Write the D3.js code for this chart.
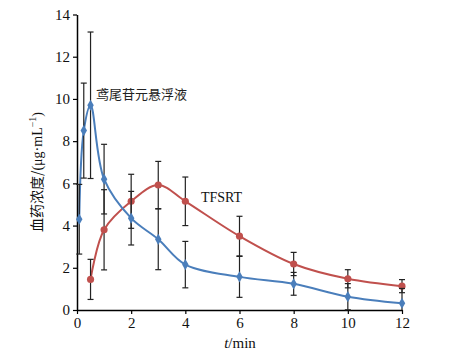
<!DOCTYPE html>
<html><head><meta charset="utf-8">
<script src="https://cdn.jsdelivr.net/npm/d3@7"></script>
<style>body{margin:0;background:#fff}svg{display:block}</style>
</head><body>
<script>
const blueT = [0.083, 0.25, 0.5, 1, 2, 3, 4, 6, 8, 10, 12];
const blueV = [4.3, 8.5, 9.7, 6.2, 4.35, 3.35, 2.15, 1.57, 1.24, 0.63, 0.32];
const blueE = [1.65, 2.25, 3.47, 1.65, 1.27, 1.44, 1.1, 0.97, 0.54, 0.62, 0.7];
const redT = [0.5, 1, 2, 3, 4, 6, 8, 10, 12];
const redV = [1.45, 3.8, 5.15, 5.92, 5.15, 3.5, 2.18, 1.48, 1.13];
const redE = [0.95, 1.9, 1.28, 1.12, 1.15, 0.94, 0.55, 0.43, 0.31];
const xTicks = [0, 2, 4, 6, 8, 10, 12];
const yTicks = [0, 2, 4, 6, 8, 10, 12, 14];
const blueName = "鸢尾苷元悬浮液";
const redName = "TFSRT";

const W = 476, H = 360;
const svg = d3.select("body").append("svg").attr("width", W).attr("height", H);
const x = d3.scaleLinear().domain([0, 12]).range([77, 402]);
const y = d3.scaleLinear().domain([0, 14]).range([310, 14.5]);
const serif = "'Liberation Serif','Times New Roman',serif";

const xa = svg.append("g").attr("transform", `translate(0,${y(0)})`)
  .call(d3.axisBottom(x).tickValues(xTicks).tickSize(4).tickSizeOuter(0).tickPadding(3));
const ya = svg.append("g").attr("transform", `translate(${x(0)},0)`)
  .call(d3.axisLeft(y).tickValues(yTicks).tickSize(4).tickSizeOuter(0).tickPadding(3));
[xa, ya].forEach(g => {
  g.select(".domain").attr("stroke", "#000").attr("stroke-width", 1.5);
  g.selectAll(".tick line").attr("stroke", "#000").attr("stroke-width", 1.2);
  g.selectAll(".tick text").attr("font-family", serif).attr("font-size", 15).attr("fill", "#111");
});

function series(T, V, E, color, shape) {
  const pts = T.map((t, i) => ({t, v: V[i], e: E[i]}));
  const g = svg.append("g");
  g.append("path").datum(pts)
    .attr("fill", "none").attr("stroke", color).attr("stroke-width", 2)
    .attr("d", d3.line().x(d => x(d.t)).y(d => y(d.v)).curve(d3.curveCatmullRom.alpha(0.5)));
  const eb = g.selectAll(".eb").data(pts).enter().append("g").attr("stroke", "#222").attr("stroke-width", 1.2);
  eb.append("line").attr("x1", d => x(d.t)).attr("x2", d => x(d.t))
    .attr("y1", d => y(Math.max(0, d.v - d.e))).attr("y2", d => y(d.v + d.e));
  eb.append("line").attr("x1", d => x(d.t) - 3).attr("x2", d => x(d.t) + 3)
    .attr("y1", d => y(d.v + d.e)).attr("y2", d => y(d.v + d.e));
  eb.filter(d => d.v - d.e > 0).append("line").attr("x1", d => x(d.t) - 3).attr("x2", d => x(d.t) + 3)
    .attr("y1", d => y(d.v - d.e)).attr("y2", d => y(d.v - d.e));
  g.selectAll(".m").data(pts).enter().append("path")
    .attr("transform", d => `translate(${x(d.t)},${y(d.v)})`)
    .attr("fill", color)
    .attr("d", d3.symbol().type(shape).size(shape === d3.symbolCircle ? 40 : 36));
}
series(redT, redV, redE, "#c0504d", d3.symbolCircle);
series(blueT, blueV, blueE, "#4a7ebb", d3.symbolDiamond);

svg.append("text").attr("x", 96).attr("y", 99).attr("font-family", "'Noto Sans CJK SC',sans-serif")
  .attr("font-size", 13).attr("fill", "#222").text(blueName);
svg.append("text").attr("x", 201).attr("y", 202).attr("font-family", serif)
  .attr("font-size", 14).attr("fill", "#111").text(redName);

const xl = svg.append("text").attr("x", 240).attr("y", 348).attr("text-anchor", "middle")
  .attr("font-family", serif).attr("font-size", 15).attr("fill", "#111");
xl.append("tspan").attr("font-style", "italic").text("t");
xl.append("tspan").text("/min");

const yl = svg.append("text").attr("transform", "translate(42,172) rotate(-90)").attr("text-anchor", "middle")
  .attr("font-size", 14).attr("fill", "#111");
yl.append("tspan").attr("font-family", "'Noto Sans CJK SC',sans-serif").text("血药浓度/");
yl.append("tspan").attr("font-family", serif).text("(μg·mL");
yl.append("tspan").attr("font-family", serif).attr("font-size", 10).attr("dy", -6).text("−1");
yl.append("tspan").attr("font-family", serif).attr("dy", 6).text(")");
</script>
</body></html>
